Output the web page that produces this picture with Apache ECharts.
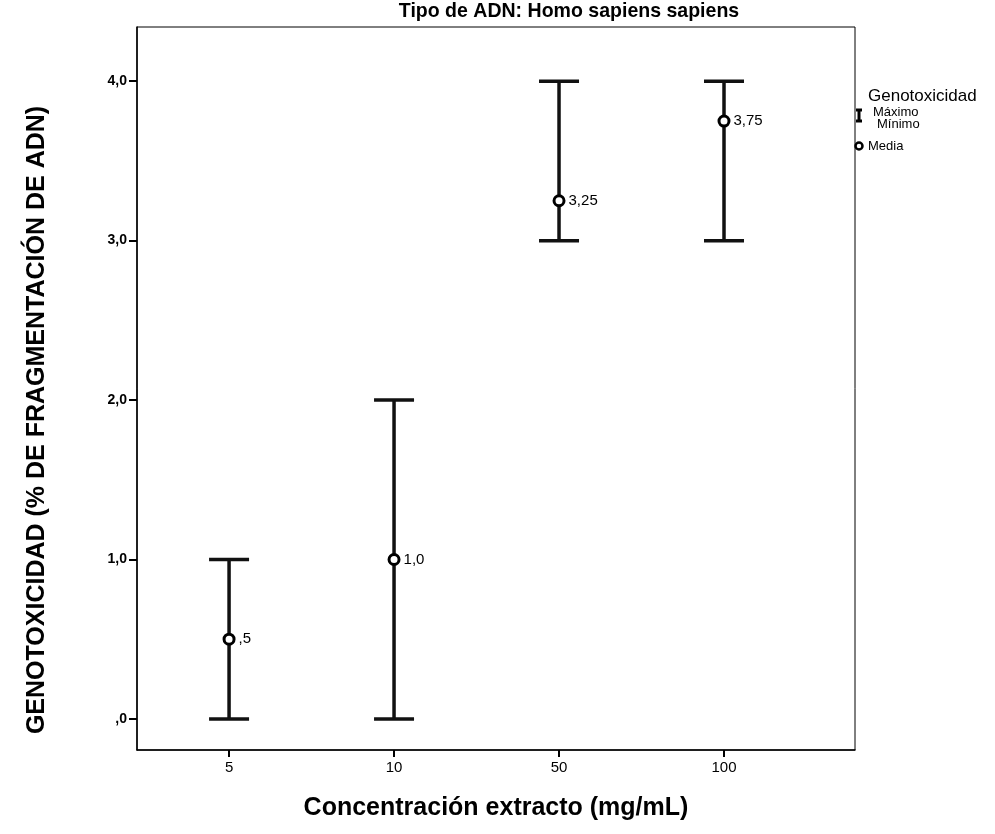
<!DOCTYPE html>
<html><head><meta charset="utf-8">
<script src="https://cdn.jsdelivr.net/npm/echarts@6/dist/echarts.min.js"></script>
<style>html,body{margin:0;padding:0;background:#fff}#c{width:995px;height:834px}</style>
</head><body><div id="c"></div>
<script>
const categories = ['5', '10', '50', '100'];
const minValues = [0, 0, 3, 3];
const maxValues = [1, 2, 4, 4];
const meanValues = [0.5, 1.0, 3.25, 3.75];
const meanLabels = [',5', '1,0', '3,25', '3,75'];
const yTicks = [0, 1, 2, 3, 4];
const yTickLabels = [',0', '1,0', '2,0', '3,0', '4,0'];

const chart = echarts.init(document.getElementById('c'));
const barData = categories.map((c, i) => [i, minValues[i], maxValues[i]]);
const meanData = categories.map((c, i) => [i, meanValues[i]]);

chart.setOption({
  animation: false,
  backgroundColor: '#fff',
  grid: { left: 137, top: 27, width: 718, height: 723, show: true, borderColor: '#000', borderWidth: 1, backgroundColor: 'transparent' },
  xAxis: {
    type: 'value', min: -0.558, max: 3.794,
    axisLine: { show: true, onZero: false, lineStyle: { color: '#000', width: 1.5 } },
    splitLine: { show: false },
    axisTick: { show: true, customValues: [0, 1, 2, 3], length: 7, lineStyle: { color: '#000', width: 2 } },
    axisLabel: { customValues: [0, 1, 2, 3], formatter: v => categories[Math.round(v)], color: '#000', fontFamily: 'Arial, Liberation Sans', fontSize: 15, margin: 10 }
  },
  yAxis: {
    type: 'value', min: -0.195, max: 4.34,
    axisLine: { show: true, onZero: false, lineStyle: { color: '#000', width: 1.5 } },
    splitLine: { show: false },
    axisTick: { show: true, customValues: yTicks, length: 8, lineStyle: { color: '#000', width: 2 } },
    axisLabel: { customValues: yTicks, formatter: v => yTickLabels[yTicks.indexOf(Math.round(v))], color: '#000', fontFamily: 'Arial, Liberation Sans', fontSize: 14, fontWeight: 'bold', margin: 10 }
  },
  series: [
    {
      type: 'custom',
      data: barData,
      renderItem: function (params, api) {
        const x = api.value(0);
        const lo = api.coord([x, api.value(1)]);
        const hi = api.coord([x, api.value(2)]);
        const hw = 20;
        const st = { stroke: '#111', lineWidth: 3.5 };
        return { type: 'group', children: [
          { type: 'line', shape: { x1: lo[0], y1: lo[1], x2: hi[0], y2: hi[1] }, style: st },
          { type: 'line', shape: { x1: lo[0] - hw, y1: lo[1], x2: lo[0] + hw, y2: lo[1] }, style: st },
          { type: 'line', shape: { x1: hi[0] - hw, y1: hi[1], x2: hi[0] + hw, y2: hi[1] }, style: st }
        ]};
      },
      z: 2
    },
    {
      type: 'scatter',
      data: meanData,
      symbol: 'circle',
      symbolSize: 10,
      itemStyle: { color: '#fff', borderColor: '#000', borderWidth: 3, opacity: 1 },
      label: { show: true, position: 'right', distance: 3, formatter: p => meanLabels[p.dataIndex], color: '#000', fontFamily: 'Arial, Liberation Sans', fontSize: 15 },
      emphasis: { disabled: true },
      z: 3
    }
  ],
  graphic: [
    { type: 'text', x: 569, y: 11, scaleX: 0.93, style: { text: 'Tipo de ADN: Homo sapiens sapiens', x: 0, y: 0, align: 'center', verticalAlign: 'middle', font: 'bold 21px Arial, "Liberation Sans"', fill: '#000' } },
    { type: 'text', style: { text: 'Concentración extracto (mg/mL)', x: 496, y: 808, align: 'center', verticalAlign: 'middle', font: 'bold 25px Arial, "Liberation Sans"', fill: '#000' } },
    { type: 'text', rotation: Math.PI / 2, x: 37, y: 420, style: { text: 'GENOTOXICIDAD (% DE FRAGMENTACIÓN DE ADN)', x: 0, y: 0, align: 'center', verticalAlign: 'middle', font: 'bold 25px Arial, "Liberation Sans"', fill: '#000' } },
    { type: 'text', style: { text: 'Genotoxicidad', x: 868, y: 96, verticalAlign: 'middle', font: '17px Arial, "Liberation Sans"', fill: '#000' } },
    { type: 'text', style: { text: 'Máximo', x: 873, y: 112, verticalAlign: 'middle', font: '13px Arial, "Liberation Sans"', fill: '#000' } },
    { type: 'text', style: { text: 'Mínimo', x: 877, y: 124, verticalAlign: 'middle', font: '13px Arial, "Liberation Sans"', fill: '#000' } },
    { type: 'text', style: { text: 'Media', x: 868, y: 146, verticalAlign: 'middle', font: '13px Arial, "Liberation Sans"', fill: '#000' } },
    { type: 'line', shape: { x1: 859, y1: 110, x2: 859, y2: 121 }, style: { stroke: '#000', lineWidth: 3 } },
    { type: 'line', shape: { x1: 856, y1: 110, x2: 862, y2: 110 }, style: { stroke: '#000', lineWidth: 3 } },
    { type: 'line', shape: { x1: 856, y1: 121, x2: 862, y2: 121 }, style: { stroke: '#000', lineWidth: 3 } },
    { type: 'circle', shape: { cx: 859, cy: 146, r: 3.5 }, style: { fill: '#fff', stroke: '#000', lineWidth: 2.5 } }
  ]
});
</script></body></html>
